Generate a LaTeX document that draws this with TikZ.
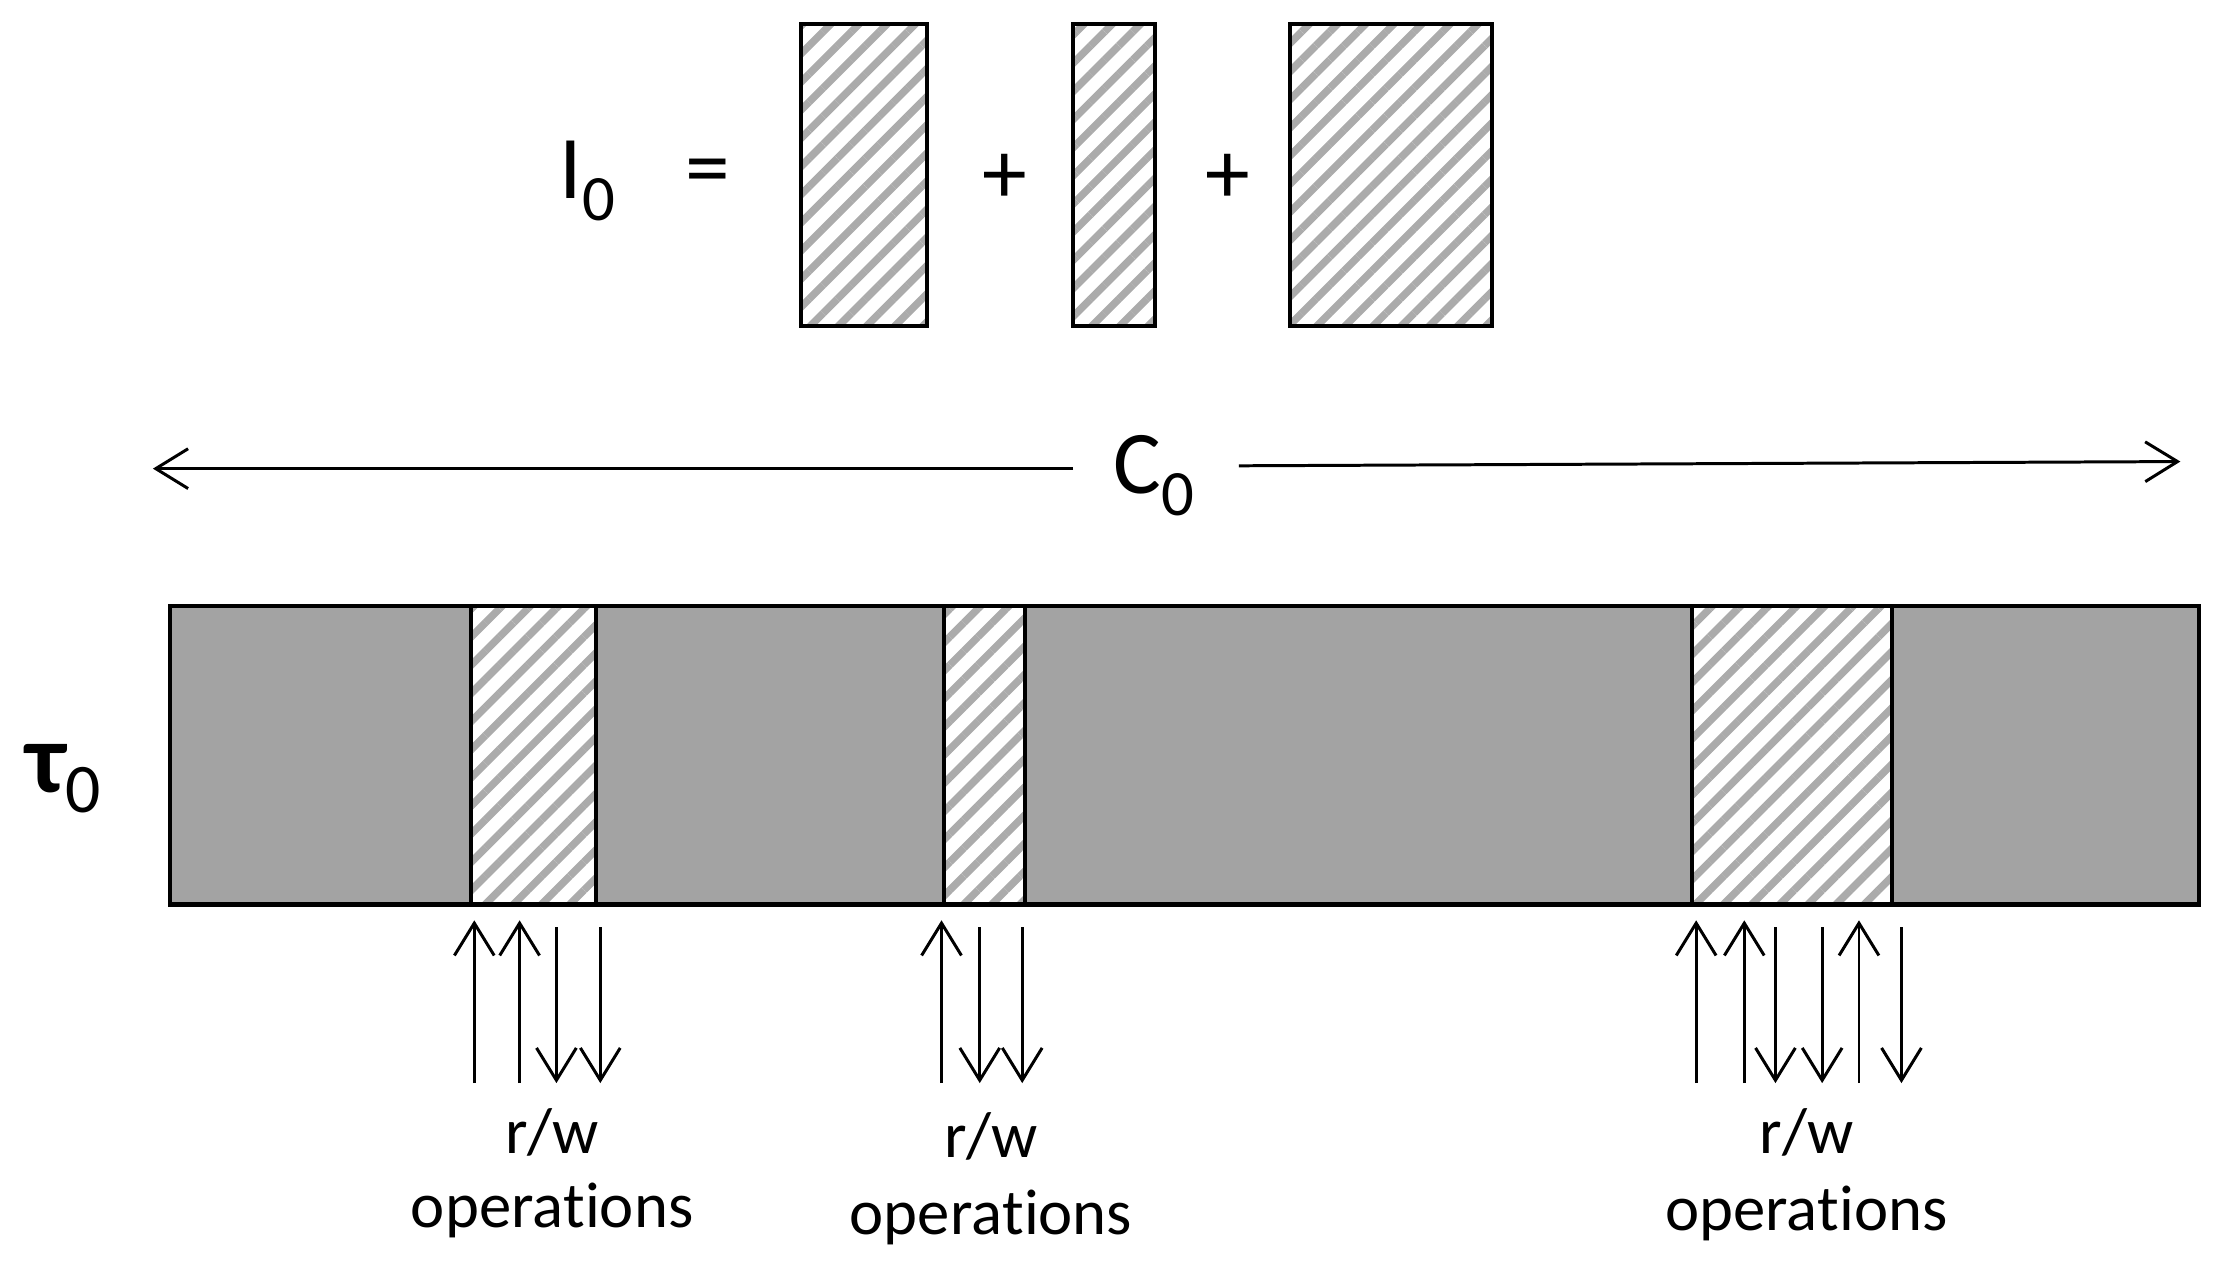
\documentclass[tikz,border=0pt]{standalone}
\usepackage{fontspec}
\setmainfont{Carlito}[Ligatures={NoCommon,NoContextual}]
\usetikzlibrary{arrows.meta,patterns.meta}
\newcommand{\ops}{opera\kern0pt t\kern0pt ions}
\begin{document}
\begin{tikzpicture}[x=0.02cm,y=-0.02cm,
  hatch/.style={draw=black,line width=1.6pt,pattern={Lines[angle=45,distance=8pt,line width=3pt]},pattern color=black!33},
  ar/.style={line width=1.2pt,-{Straight Barb[length=13pt,width=16pt,line width=1.2pt]}},
  big/.style={font=\fontsize{36}{40}\selectfont},
  lbl/.style={font=\fontsize{26}{30}\selectfont,align=center}]
\useasboundingbox (0,0) rectangle (1568,902);
% equation
\node[big] (I) at (415,128) {I\raisebox{-0.25em}{\fontsize{26}{30}\selectfont 0}};
\node[big] (eq) at (500,126) {=};
\node[big] (p1) at (710,126) {+};
\node[big] (p2) at (867,126) {+};
\draw[hatch] (566,17) rectangle (655,230);
\draw[hatch] (758,17) rectangle (816,230);
\draw[hatch] (911,17) rectangle (1054,230);
% C0
\node[big,inner sep=0pt] (C) at (815,336) {C\raisebox{-0.25em}{\fontsize{26}{30}\selectfont 0}};
\coordinate (cl) at (108,331);
\coordinate (cr) at (1540,326);
\draw[ar] (758,331) -- (cl);
\draw[ar] (875,329) -- (cr);
% bar
\fill[black!36] (120,428) rectangle (1553,639);
\fill[white] (333,428) rectangle (421,639) (667,428) rectangle (724,639) (1195,428) rectangle (1336,639);
\draw[hatch] (333,428) rectangle (421,639);
\draw[hatch] (667,428) rectangle (724,639);
\draw[hatch] (1195,428) rectangle (1336,639);
\draw[line width=1.8pt] (120,428) rectangle (1553,639);
\node[font=\fontsize{40}{44}\selectfont\bfseries] (tau) at (45,550) {τ\raisebox{-0.2em}{\fontsize{28}{30}\mdseries 0}};
% arrows
\foreach \x in {335,367,665,1198,1232,1313} \draw[ar] (\x,765) -- (\x,650);
\foreach \x in {393,424,692,722,1254,1287,1343} \draw[ar] (\x,655) -- (\x,765);
% labels
\node[lbl] (l1) at (390,800) {r/w};
\node[lbl] (o1) at (390,855) {\ops};
\node[lbl] (l2) at (700,803) {r/w};
\node[lbl] (o2) at (700,860) {\ops};
\node[lbl] (l3) at (1276,800) {r/w};
\node[lbl] (o3) at (1276,857) {\ops};
\end{tikzpicture}
\end{document}
